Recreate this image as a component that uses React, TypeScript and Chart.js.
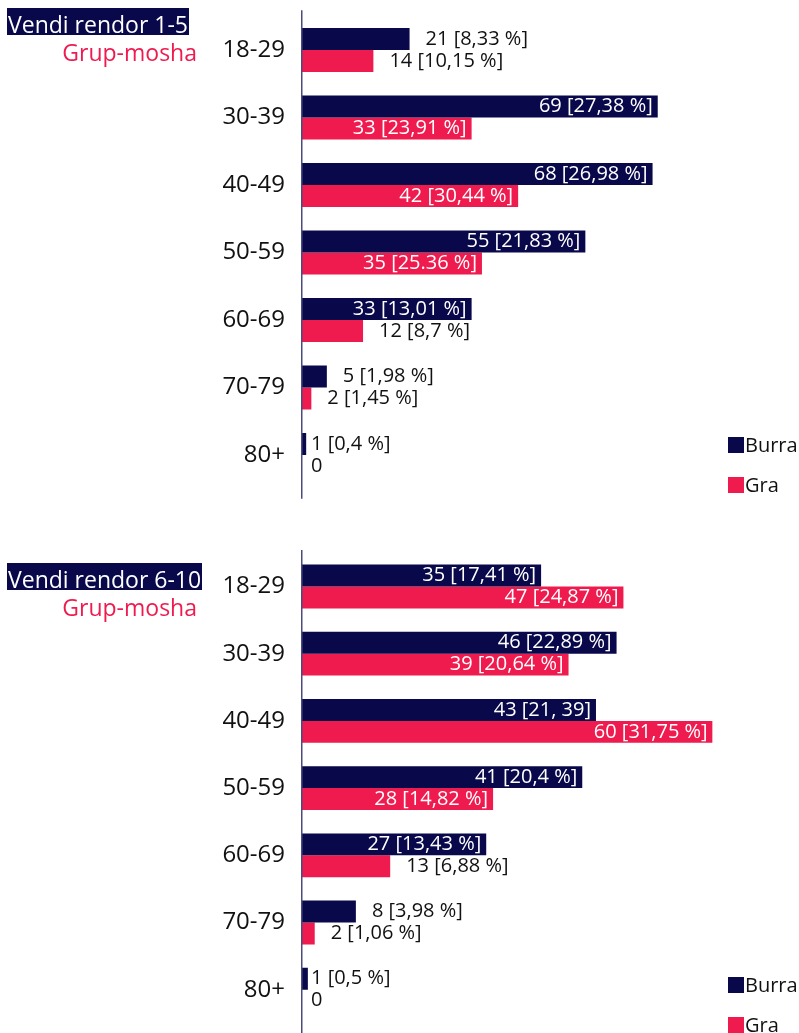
import React, { useEffect, useRef } from "react";
import { Chart, registerables } from "chart.js";

Chart.register(...registerables);

// ---------- data ----------
const categories = ["18-29", "30-39", "40-49", "50-59", "60-69", "70-79", "80+"];
const seriesNames = ["Burra", "Gra"];
const axisTitle = "Grup-mosha";

const panel1Title = "Vendi rendor 1-5";
const panel1Burra = [21, 69, 68, 55, 33, 5, 1];
const panel1BurraPct = ["8,33 %", "27,38 %", "26,98 %", "21,83 %", "13,01 %", "1,98 %", "0,4 %"];
const panel1Gra = [14, 33, 42, 35, 12, 2, 0];
const panel1GraPct = ["10,15 %", "23,91 %", "30,44 %", "25.36 %", "8,7 %", "1,45 %", ""];
const panel1Max = 80;

const panel2Title = "Vendi rendor 6-10";
const panel2Burra = [35, 46, 43, 41, 27, 8, 1];
const panel2BurraPct = ["17,41 %", "22,89 %", "21, 39", "20,4 %", "13,43 %", "3,98 %", "0,5 %"];
const panel2Gra = [47, 39, 60, 28, 13, 2, 0];
const panel2GraPct = ["24,87 %", "20,64 %", "31,75 %", "14,82 %", "6,88 %", "1,06 %", ""];
const panel2Max = 60;

// ---------- style ----------
const NAVY = "#08084b";
const CRIMSON = "#ef1a4e";
const FONT = "'Open Sans'";

const makeTexts = (vals: number[], pcts: string[]) =>
  vals.map((v, i) => (pcts[i] ? `${v} [${pcts[i]}]` : `${v}`));

const barLabelPlugin = {
  id: "barLabels",
  afterDatasetsDraw(chart: any) {
    const ctx = chart.ctx;
    ctx.save();
    ctx.font = `20px ${FONT}`;
    ctx.textBaseline = "middle";
    chart.data.datasets.forEach((ds: any, di: number) => {
      const meta = chart.getDatasetMeta(di);
      const texts: string[] = ds.labelTexts || [];
      meta.data.forEach((bar: any, i: number) => {
        const text = texts[i];
        if (!text) return;
        const p = bar.getProps(["x", "y", "base"], true);
        const w = ctx.measureText(text).width;
        const barW = p.x - p.base;
        if (w + 10 <= barW) {
          ctx.fillStyle = "#ffffff";
          ctx.textAlign = "right";
          ctx.fillText(text, p.x - 5, p.y);
        } else {
          ctx.fillStyle = "#111111";
          ctx.textAlign = "left";
          const lx = p.x - p.base < 10 ? p.base + 10 : p.x + 16;
          ctx.fillText(text, lx, p.y);
        }
      });
    });
    ctx.restore();
  },
};

const axisLinePlugin = {
  id: "axisLine",
  afterDraw(chart: any, _args: any, opts: any) {
    const { ctx, chartArea } = chart;
    ctx.save();
    ctx.strokeStyle = "#4b4b7d";
    ctx.lineWidth = 1.5;
    ctx.beginPath();
    const x = chartArea.left + 0.75;
    ctx.moveTo(x, chartArea.top - (opts.extTop || 0));
    ctx.lineTo(x, chartArea.bottom + (opts.extBottom || 0));
    ctx.stroke();
    ctx.restore();
  },
};

type PanelProps = {
  burra: number[];
  burraPct: string[];
  gra: number[];
  graPct: string[];
  max: number;
  height: number;
  padTop: number;
  padBottom: number;
  padRight: number;
  extTop: number;
  extBottom: number;
};

function BarPanel(props: PanelProps) {
  const ref = useRef<HTMLCanvasElement | null>(null);
  useEffect(() => {
    if (!ref.current) return;
    const chart = new Chart(ref.current, {
      type: "bar",
      data: {
        labels: categories,
        datasets: [
          {
            label: seriesNames[0],
            data: props.burra,
            backgroundColor: NAVY,
            categoryPercentage: 0.652,
            barPercentage: 1,
            labelTexts: makeTexts(props.burra, props.burraPct),
          } as any,
          {
            label: seriesNames[1],
            data: props.gra,
            backgroundColor: CRIMSON,
            categoryPercentage: 0.652,
            barPercentage: 1,
            labelTexts: makeTexts(props.gra, props.graPct),
          } as any,
        ],
      },
      options: {
        indexAxis: "y",
        animation: false,
        responsive: false,
        maintainAspectRatio: false,
        layout: {
          padding: { left: 0, right: props.padRight, top: props.padTop, bottom: props.padBottom },
        },
        scales: {
          x: { min: 0, max: props.max, display: false },
          y: {
            grid: { display: false, drawTicks: false },
            border: { display: false },
            ticks: { color: "#111111", font: { family: FONT, size: 24 }, padding: 16 },
            afterFit(scale: any) {
              scale.width = 301;
              scale.paddingTop = 0;
              scale.paddingBottom = 0;
            },
          },
        },
        plugins: {
          legend: { display: false },
          tooltip: { enabled: false },
          axisLine: { extTop: props.extTop, extBottom: props.extBottom },
        } as any,
      },
      plugins: [barLabelPlugin, axisLinePlugin],
    });
    return () => chart.destroy();
  }, []);
  return <canvas ref={ref} width={799} height={props.height} style={{ display: "block" }} />;
}

function Legend({ top }: { top: number }) {
  const colors = [NAVY, CRIMSON];
  return (
    <div style={{ position: "absolute", left: 728, top }}>
      {seriesNames.map((n, i) => (
        <div key={n} style={{ position: "absolute", left: 0, top: i * 40, display: "flex", alignItems: "flex-end", height: 16 }}>
          <div style={{ width: 16, height: 16, background: colors[i] }} />
          <span style={{ font: `20px ${FONT}`, color: "#111", lineHeight: "16px", marginLeft: 1, whiteSpace: "nowrap" }}>{n}</span>
        </div>
      ))}
    </div>
  );
}

function Titles({ title, top }: { title: string; top: number }) {
  return (
    <>
      <div
        style={{
          position: "absolute",
          left: 7,
          top,
          height: 27,
          lineHeight: "27px",
          background: NAVY,
          color: "#fff",
          font: `23px ${FONT}`,
          padding: "0 1px 0 1px",
          whiteSpace: "nowrap",
        }}
      >
        {title}
      </div>
      <div
        style={{
          position: "absolute",
          left: 0,
          width: 197,
          top: top + 32,
          textAlign: "right",
          color: CRIMSON,
          font: `23px ${FONT}`,
          lineHeight: "24px",
          whiteSpace: "nowrap",
        }}
      >
        {axisTitle}
      </div>
    </>
  );
}

export default function App() {
  useEffect(() => {
    document.body.style.margin = "0";
    document.body.style.overflow = "hidden";
  }, []);
  return (
    <div style={{ position: "relative", width: 799, height: 1033, overflow: "hidden", background: "#fff" }}>
      <div style={{ position: "absolute", left: 0, top: 0 }}>
        <BarPanel
          burra={panel1Burra}
          burraPct={panel1BurraPct}
          gra={panel1Gra}
          graPct={panel1GraPct}
          max={panel1Max}
          height={505}
          padTop={16.25}
          padBottom={16.25}
          padRight={84.4}
          extTop={6}
          extBottom={10}
        />
      </div>
      <div style={{ position: "absolute", left: 0, top: 540 }}>
        <BarPanel
          burra={panel2Burra}
          burraPct={panel2BurraPct}
          gra={panel2Gra}
          graPct={panel2GraPct}
          max={panel2Max}
          height={493}
          padTop={12.9}
          padBottom={9.7}
          padRight={86.4}
          extTop={3}
          extBottom={12}
        />
      </div>
      <Titles title={panel1Title} top={8} />
      <Titles title={panel2Title} top={563} />
      <Legend top={437} />
      <Legend top={977} />
    </div>
  );
}
